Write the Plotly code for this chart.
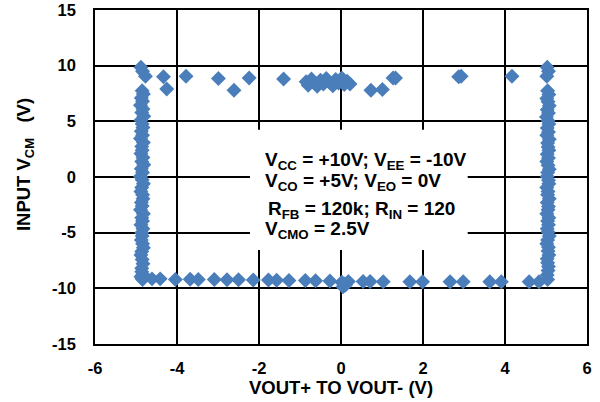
import plotly.graph_objects as go

# Left vertical branch (VOUT saturated negative)
left_x = [-4.88, -4.84, -4.77,
          -4.85, -4.82, -4.87, -4.84, -4.89, -4.83, -4.86, -4.81, -4.88, -4.85,
          -4.83, -4.87, -4.84, -4.89, -4.82, -4.86, -4.85, -4.88, -4.83, -4.86,
          -4.81, -4.87, -4.84, -4.89, -4.85, -4.82, -4.86, -4.88, -4.84, -4.83,
          -4.87, -4.85, -4.89, -4.82, -4.86, -4.84, -4.88, -4.83, -4.86, -4.85,
          -4.87, -4.84, -4.82, -4.86, -4.88, -4.85, -4.83, -4.86]
left_y = [9.85, 9.5, 9.05,
          7.75, 7.45, 7.1, 6.8, 6.45, 6.1, 5.8, 5.45, 5.1, 4.75,
          4.45, 4.1, 3.75, 3.45, 3.1, 2.75, 2.4, 2.1, 1.75, 1.4,
          1.1, 0.75, 0.4, 0.05, -0.25, -0.6, -0.95, -1.3, -1.6, -1.95,
          -2.3, -2.6, -2.95, -3.3, -3.65, -3.95, -4.3, -4.65, -5.0, -5.3,
          -5.65, -6.0, -6.35, -6.7, -7.0, -7.4, -7.8, -8.2]
left_x2 = [-4.86, -4.83, -4.88, -4.85, -4.84]
left_y2 = [-8.5, -8.75, -8.95, -9.1, -9.2]

# Right vertical branch (VOUT saturated positive)
right_x = [5.03, 5.06, 5.02,
           5.04, 5.07, 5.02, 5.05, 5.08, 5.03, 5.06, 5.01, 5.05, 5.07,
           5.03, 5.06, 5.02, 5.08, 5.04, 5.05, 5.07, 5.03, 5.06, 5.02,
           5.05, 5.08, 5.04, 5.03, 5.06, 5.07, 5.02, 5.05, 5.04, 5.08,
           5.03, 5.06, 5.05, 5.02, 5.07, 5.04, 5.06, 5.03, 5.05, 5.08,
           5.04, 5.02, 5.06, 5.05, 5.07, 5.03, 5.04, 5.06, 5.05, 5.03, 5.04]
right_y = [9.85, 9.5, 9.05,
           7.75, 7.4, 7.05, 6.75, 6.4, 6.05, 5.75, 5.4, 5.05, 4.75,
           4.4, 4.05, 3.75, 3.4, 3.05, 2.7, 2.4, 2.05, 1.7, 1.4,
           1.05, 0.7, 0.4, 0.05, -0.3, -0.6, -0.95, -1.3, -1.6, -1.95,
           -2.3, -2.65, -2.95, -3.3, -3.65, -3.95, -4.3, -4.65, -4.95, -5.3,
           -5.65, -6.0, -6.3, -6.65, -7.0, -7.35, -7.7, -8.05, -8.4, -8.8, -9.2]

# Top branch (input near positive rail)
top_x = [-4.33, -4.25, -3.78, -2.99, -2.61, -2.24, -1.40,
         -0.85, -0.80, -0.72, -0.65, -0.58, -0.50, -0.43, -0.36, -0.28,
         -0.20, -0.13, -0.06, 0.02, 0.08, 0.15, 0.22,
         0.73, 1.01, 1.27, 1.33, 2.87, 2.93, 4.17]
top_y = [9.0, 7.9, 9.05, 8.85, 7.8, 8.9, 8.8,
         8.55, 8.25, 8.8, 8.45, 8.15, 8.7, 8.35, 8.85, 8.5,
         8.2, 8.75, 8.45, 8.9, 8.3, 8.6, 8.35,
         7.8, 7.85, 8.9, 8.9, 9.0, 9.05, 9.05]

# Bottom branch (input near negative rail)
bot_x = [-4.61, -4.41, -4.04, -3.68, -3.48, -3.09, -2.78, -2.50, -2.14,
         -1.77, -1.57, -1.27, -0.87, -0.62, -0.27,
         0.02, 0.08, 0.05, 0.11, 0.18, 0.54, 0.71, 1.03, 1.68, 1.99,
         2.66, 2.98, 3.63, 3.91, 4.59, 4.83]
bot_y = [-9.15, -9.15, -9.2, -9.18, -9.2, -9.2, -9.22, -9.22, -9.25,
         -9.25, -9.27, -9.3, -9.3, -9.32, -9.35,
         -9.45, -9.6, -9.85, -9.7, -9.38, -9.38, -9.38, -9.4, -9.4, -9.4,
         -9.4, -9.4, -9.4, -9.4, -9.4, -9.4]

x_ticks = [-6, -4, -2, 0, 2, 4, 6]
y_ticks = [-15, -10, -5, 0, 5, 10, 15]

all_x = left_x + left_x2 + right_x + top_x + bot_x
all_y = left_y + left_y2 + right_y + top_y + bot_y

FONT = "Arial, Liberation Sans, sans-serif"
BLUE = "#4A7EBB"

fig = go.Figure()
fig.add_trace(go.Scatter(
    x=all_x, y=all_y, mode="markers",
    marker=dict(symbol="diamond", size=11.5, color=BLUE, line=dict(width=0)),
    showlegend=False,
))

# white box behind the condition text
fig.add_shape(type="rect", xref="x", yref="y", x0=-2.22, x1=3.09, y0=-6.56, y1=4.25,
              fillcolor="white", line=dict(width=0), layer="between")

notes = [
    ("V<sub>CC</sub> = +10V; V<sub>EE</sub> = -10V", -1.90, 1.45),
    ("V<sub>CO</sub> = +5V; V<sub>EO</sub> = 0V", -1.90, -0.45),
    ("R<sub>FB</sub> = 120k; R<sub>IN</sub> = 120", -1.82, -2.95),
    ("V<sub>CMO</sub> = 2.5V", -1.90, -4.8),
]
for txt, nx, ny in notes:
    fig.add_annotation(x=nx, y=ny, xref="x", yref="y", text=txt, showarrow=False,
                       xanchor="left", yanchor="middle",
                       font=dict(family=FONT, size=19, color="black", weight="bold"))

# y axis title placed as a rotated annotation
fig.add_annotation(x=-0.142, y=0.536, xref="paper", yref="paper",
                   text="INPUT V<sub>CM</sub>&nbsp;&nbsp; (V)", showarrow=False,
                   textangle=-90, xanchor="center", yanchor="middle",
                   font=dict(family=FONT, size=18.5, color="black", weight="bold"))

axis_common = dict(
    showline=True, linecolor="black", linewidth=1.5, mirror=True,
    showgrid=True, gridcolor="black", gridwidth=1.5,
    zeroline=False, ticks="",
    tickfont=dict(family=FONT, size=16.5, color="black", weight="bold"),
)

fig.update_xaxes(range=[-6, 6], tickvals=x_ticks, ticktext=[str(v) for v in x_ticks],
                 ticklabelstandoff=8,
                 title=dict(text="VOUT+ TO VOUT- (V)", standoff=6,
                            font=dict(family=FONT, size=18.5, color="black", weight="bold")),
                 **axis_common)
fig.update_yaxes(range=[-15, 15], tickvals=y_ticks, ticktext=[str(v) for v in y_ticks],
                 ticklabelstandoff=14,
                 **axis_common)

fig.update_layout(
    width=600, height=402,
    margin=dict(l=95, r=13, t=10, b=58, autoexpand=False),
    plot_bgcolor="white", paper_bgcolor="white",
)

fig.write_html("out.html", config={"displayModeBar": False},
               post_script="document.body.style.margin='0';")
